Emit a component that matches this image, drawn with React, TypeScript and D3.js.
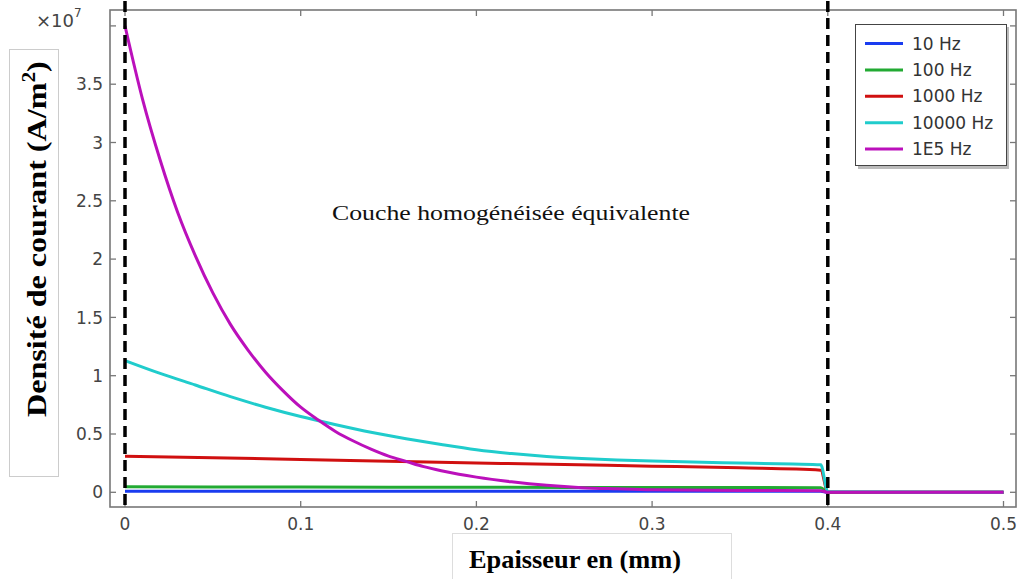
import { useEffect, useRef } from 'react';
import * as d3 from 'd3';

// values in units of 1e7 A/m², x in mm
const series10: [number, number][] = [
  [0, 0.01], [0.2, 0.01], [0.396, 0.01], [0.4, 0], [0.5, 0],
];
const series100: [number, number][] = [
  [0, 0.047], [0.1, 0.045], [0.2, 0.043], [0.3, 0.041], [0.396, 0.04], [0.4, 0], [0.5, 0],
];
const series1000: [number, number][] = [
  [0, 0.31], [0.05, 0.296], [0.1, 0.282], [0.15, 0.267], [0.2, 0.252], [0.25, 0.238],
  [0.3, 0.224], [0.35, 0.21], [0.396, 0.19], [0.4, 0], [0.5, 0],
];
const series10000: [number, number][] = [
  [0, 1.13], [0.02, 1.02], [0.04, 0.92], [0.06, 0.82], [0.08, 0.73], [0.1, 0.65],
  [0.12, 0.58], [0.14, 0.515], [0.16, 0.46], [0.18, 0.41], [0.2, 0.365], [0.22, 0.332],
  [0.24, 0.307], [0.26, 0.29], [0.28, 0.278], [0.3, 0.268], [0.34, 0.254], [0.38, 0.242],
  [0.396, 0.236], [0.4, 0.005], [0.5, 0],
];
const series1E5: [number, number][] = [
  [0, 4.0], [0.01, 3.37], [0.02, 2.85], [0.03, 2.4], [0.04, 2.03], [0.05, 1.71],
  [0.06, 1.44], [0.07, 1.22], [0.08, 1.03], [0.09, 0.87], [0.1, 0.73], [0.11, 0.62],
  [0.12, 0.52], [0.13, 0.44], [0.14, 0.37], [0.15, 0.31], [0.16, 0.265], [0.17, 0.22],
  [0.18, 0.185], [0.19, 0.155], [0.2, 0.13], [0.22, 0.09], [0.24, 0.06], [0.26, 0.04],
  [0.28, 0.03], [0.3, 0.022], [0.35, 0.016], [0.396, 0.014], [0.4, 0], [0.5, 0],
];

const legendLabels = ['10 Hz', '100 Hz', '1000 Hz', '10000 Hz', '1E5 Hz'];
const colors = ['#1a3cf0', '#22aa33', '#d01010', '#20cccc', '#bb10bb'];
const allSeries = [series10, series100, series1000, series10000, series1E5];

const xTicks = [0, 0.1, 0.2, 0.3, 0.4, 0.5];
const yTicks = [0, 0.5, 1, 1.5, 2, 2.5, 3, 3.5, 4];
const boundaries = [0, 0.4];

export default function App() {
  const svgRef = useRef<SVGSVGElement | null>(null);

  useEffect(() => {
    if (!svgRef.current) return;
    const svg = d3.select(svgRef.current);
    svg.selectAll('*').remove();

    const left = 110,
      right = 1016,
      top = 10,
      bottom = 507;

    const x = d3.scaleLinear().domain([0, 0.5]).range([125, 1003.5]);
    const y = d3.scaleLinear().domain([0, 4]).range([492.3, 25.9]);

    svg.append('rect').attr('width', 1023).attr('height', 579).attr('fill', '#fff');

    // curves
    const line = d3
      .line<[number, number]>()
      .x((d) => x(d[0]))
      .y((d) => y(d[1]))
      .curve(d3.curveMonotoneX);

    const curves = svg.append('g');
    allSeries.forEach((s, i) => {
      curves
        .append('path')
        .attr('d', line(s)!)
        .attr('fill', 'none')
        .attr('stroke', colors[i])
        .attr('stroke-width', 3)
        .attr('stroke-linejoin', 'round');
    });

    // frame
    const axisColor = '#777';
    svg
      .append('rect')
      .attr('x', left)
      .attr('y', top)
      .attr('width', right - left)
      .attr('height', bottom - top)
      .attr('fill', 'none')
      .attr('stroke', axisColor)
      .attr('stroke-width', 1.6);

    const tickFont = 'DejaVu Sans, sans-serif';
    const ticks = svg.append('g').attr('stroke', axisColor).attr('stroke-width', 1.3);
    yTicks.forEach((v) => {
      ticks.append('line').attr('x1', left).attr('x2', left + 6).attr('y1', y(v)).attr('y2', y(v));
      ticks.append('line').attr('x1', right).attr('x2', right - 6).attr('y1', y(v)).attr('y2', y(v));
    });
    xTicks.forEach((v) => {
      ticks.append('line').attr('x1', x(v)).attr('x2', x(v)).attr('y1', bottom).attr('y2', bottom - 6);
      ticks.append('line').attr('x1', x(v)).attr('x2', x(v)).attr('y1', top).attr('y2', top + 6);
    });

    svg
      .append('g')
      .selectAll('text')
      .data(yTicks.filter((v) => v < 4))
      .enter()
      .append('text')
      .attr('x', left - 7)
      .attr('y', (d) => y(d))
      .attr('dy', '0.36em')
      .attr('text-anchor', 'end')
      .attr('font-family', tickFont)
      .attr('font-size', 17)
      .attr('fill', '#444')
      .text((d) => String(d));

    svg
      .append('g')
      .selectAll('text')
      .data(xTicks)
      .enter()
      .append('text')
      .attr('x', (d) => x(d))
      .attr('y', 530)
      .attr('text-anchor', 'middle')
      .attr('font-family', tickFont)
      .attr('font-size', 17)
      .attr('fill', '#444')
      .text((d) => String(d));

    // exponent
    const ex = svg
      .append('text')
      .attr('x', 36)
      .attr('y', 27)
      .attr('font-family', tickFont)
      .attr('font-size', 18)
      .attr('fill', '#444');
    ex.append('tspan').text('×10');
    ex.append('tspan').attr('dy', -10).attr('font-size', 12).text('7');

    // boundary dashed lines
    boundaries.forEach((b) => {
      svg
        .append('line')
        .attr('x1', x(b))
        .attr('x2', x(b))
        .attr('y1', 1)
        .attr('y2', bottom)
        .attr('stroke', '#000')
        .attr('stroke-width', 3.5)
        .attr('stroke-dasharray', '11,6');
    });

    // annotation
    svg
      .append('text')
      .attr('x', 332)
      .attr('y', 220)
      .attr('font-family', 'Liberation Serif, Times New Roman, serif')
      .attr('font-size', 21)
      .attr('textLength', 358)
      .attr('lengthAdjust', 'spacingAndGlyphs')
      .attr('fill', '#111')
      .text('Couche homogénéisée équivalente');

    // legend
    const lg = svg.append('g');
    lg.append('rect').attr('x', 858).attr('y', 27).attr('width', 151).attr('height', 142).attr('fill', '#bbb');
    lg.append('rect')
      .attr('x', 855.5)
      .attr('y', 24.5)
      .attr('width', 151)
      .attr('height', 141)
      .attr('fill', '#fff')
      .attr('stroke', '#444')
      .attr('stroke-width', 1);
    legendLabels.forEach((lab, i) => {
      const ly = 43.5 + i * 26.4;
      lg.append('line')
        .attr('x1', 865)
        .attr('x2', 903)
        .attr('y1', ly)
        .attr('y2', ly)
        .attr('stroke', colors[i])
        .attr('stroke-width', 3);
      lg.append('text')
        .attr('x', 912)
        .attr('y', ly)
        .attr('dy', '0.36em')
        .attr('font-family', tickFont)
        .attr('font-size', 17)
        .attr('fill', '#333')
        .text(lab);
    });

    // y label
    svg
      .append('rect')
      .attr('x', 9.5)
      .attr('y', 49.5)
      .attr('width', 49)
      .attr('height', 427)
      .attr('fill', '#fff')
      .attr('stroke', '#ccc');
    const yl = svg
      .append('text')
      .attr('transform', 'translate(46,417) rotate(-90) scale(1.19,1)')
      .attr('font-family', 'Liberation Serif, Times New Roman, serif')
      .attr('font-weight', 'bold')
      .attr('font-size', 27)
      .attr('fill', '#000');
    yl.append('tspan').text('Densité de courant (A/m');
    yl.append('tspan').attr('dy', -11).attr('font-size', 18).text('2');
    yl.append('tspan').attr('dy', 11).text(')');

    // x label
    svg
      .append('rect')
      .attr('x', 452.5)
      .attr('y', 533.5)
      .attr('width', 279)
      .attr('height', 60)
      .attr('fill', '#fff')
      .attr('stroke', '#ddd');
    svg
      .append('text')
      .attr('x', 469)
      .attr('y', 568)
      .attr('font-family', 'Liberation Serif, Times New Roman, serif')
      .attr('font-weight', 'bold')
      .attr('font-size', 26)
      .attr('textLength', 212)
      .attr('lengthAdjust', 'spacingAndGlyphs')
      .attr('fill', '#000')
      .text('Epaisseur en (mm)');
  }, []);

  return (
    <svg
      ref={svgRef}
      width={1023}
      height={579}
      style={{ position: 'absolute', left: 0, top: 0, display: 'block' }}
    />
  );
}
